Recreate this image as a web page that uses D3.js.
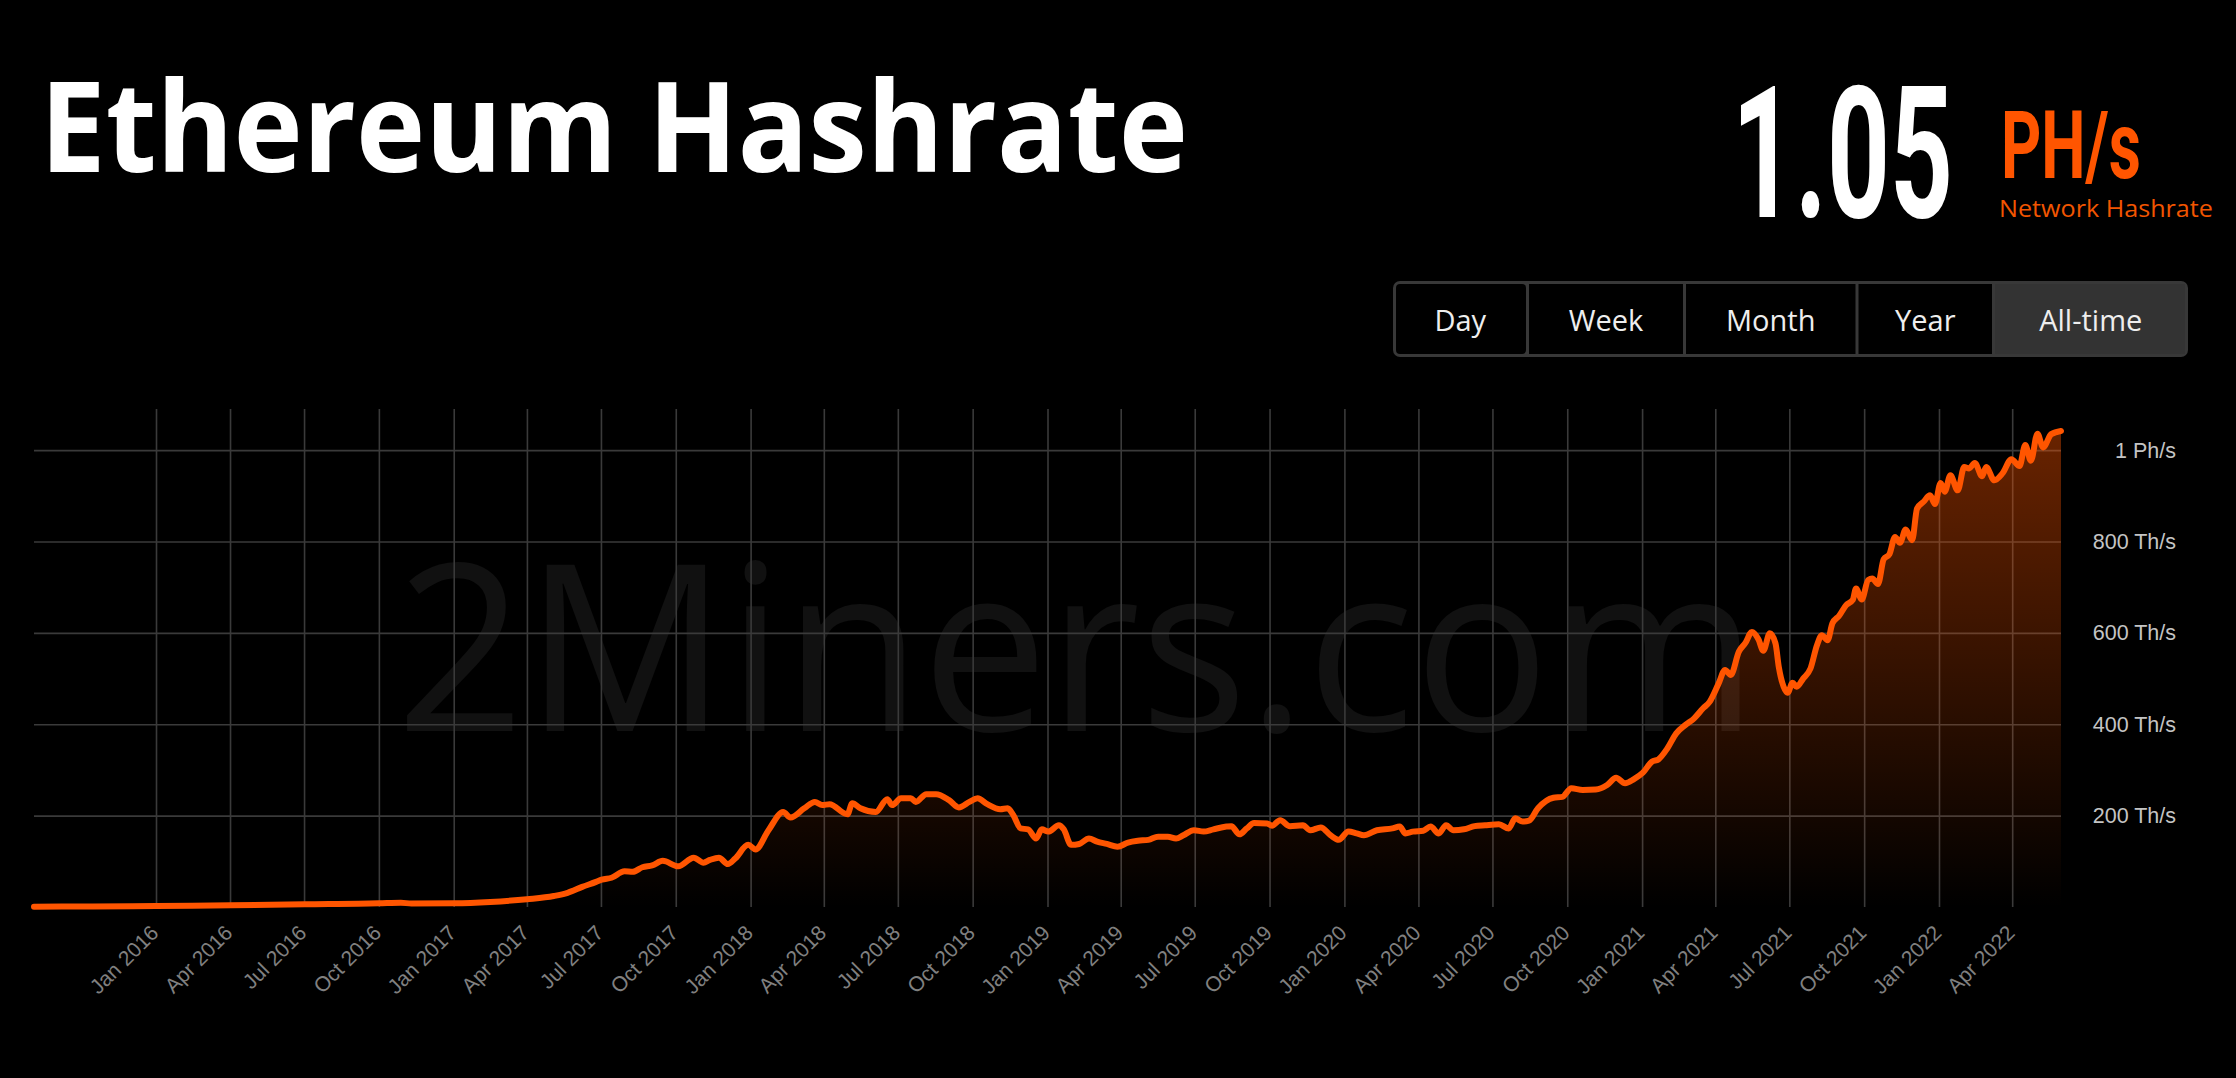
<!DOCTYPE html>
<html>
<head>
<meta charset="utf-8">
<script src="https://cdn.jsdelivr.net/npm/d3@7"></script>
<style>
  html, body { margin: 0; padding: 0; background: #000; }
  svg { display: block; }
</style>
</head>
<body>
<svg id="chart" width="2236" height="1078"></svg>
<script>
// ---------------- DATA ----------------
const dates = [
"2015-08-04","2015-10-15","2016-01-01","2016-04-02","2016-07-02","2016-10-01","2016-10-28","2016-11-10",
"2017-01-02","2017-02-15","2017-04-01","2017-05-04","2017-05-21","2017-06-08","2017-06-25","2017-07-02",
"2017-07-14","2017-07-30","2017-08-09","2017-08-21","2017-09-02","2017-09-15","2017-10-04","2017-10-23",
"2017-11-04","2017-11-12","2017-11-23","2017-12-04","2017-12-13","2017-12-29","2018-01-07","2018-01-23",
"2018-02-10","2018-02-19","2018-03-08","2018-03-21","2018-03-30","2018-04-08","2018-04-30","2018-05-06",
"2018-05-16","2018-06-04","2018-06-18","2018-06-24","2018-07-05","2018-07-17","2018-07-23","2018-08-05",
"2018-08-17","2018-09-02","2018-09-14","2018-09-27","2018-10-07","2018-10-19","2018-11-04","2018-11-13",
"2018-11-20","2018-11-29","2018-12-08","2018-12-18","2018-12-25","2019-01-02","2019-01-15","2019-01-21",
"2019-01-30","2019-02-09","2019-02-21","2019-03-03","2019-03-15","2019-03-28","2019-04-10","2019-04-22",
"2019-05-05","2019-05-17","2019-05-29","2019-06-08","2019-06-17","2019-06-30","2019-07-12","2019-07-24",
"2019-08-09","2019-08-15","2019-08-25","2019-09-03","2019-09-12","2019-09-28","2019-10-04","2019-10-14",
"2019-10-26","2019-11-11","2019-11-20","2019-12-03","2019-12-15","2019-12-25","2020-01-06","2020-01-16",
"2020-01-25","2020-02-10","2020-02-29","2020-03-09","2020-03-16","2020-03-25","2020-04-07","2020-04-16",
"2020-04-26","2020-05-05","2020-05-14","2020-05-27","2020-06-09","2020-06-22","2020-07-09","2020-07-21",
"2020-07-29","2020-08-07","2020-08-15","2020-08-26","2020-09-14","2020-09-25","2020-10-06","2020-10-20",
"2020-11-05","2020-11-19","2020-11-30","2020-12-11","2020-12-22","2021-01-02","2021-01-13","2021-01-21",
"2021-02-01","2021-02-12","2021-02-23","2021-03-06","2021-03-17","2021-03-25","2021-04-05","2021-04-13",
"2021-04-20","2021-04-30","2021-05-08","2021-05-16","2021-05-24","2021-05-30","2021-06-07","2021-06-14",
"2021-06-18","2021-06-24","2021-06-29","2021-07-05","2021-07-10","2021-07-18","2021-07-27","2021-08-04",
"2021-08-10","2021-08-17","2021-08-23","2021-08-31","2021-09-09","2021-09-17","2021-09-21","2021-09-28",
"2021-10-06","2021-10-11","2021-10-18","2021-10-25","2021-11-01","2021-11-08","2021-11-14","2021-11-21",
"2021-11-29","2021-12-05","2021-12-13","2021-12-21","2021-12-27","2022-01-03","2022-01-08","2022-01-15",
"2022-01-24","2022-02-01","2022-02-07","2022-02-14","2022-02-23","2022-02-28","2022-03-10","2022-03-20",
"2022-03-31","2022-04-10","2022-04-17","2022-04-24","2022-05-02","2022-05-09","2022-05-19","2022-05-31"
];
// Network hashrate, TH/s
const hashrate = [
0.7,1.2,2,3.7,5.8,8,9.5,7.5,
8,11,17,24,31,44,55,60,
64,78,77,87,91,101,89,108,
97,103,108,94,106,136,126,168,
208,196,216,230,223,225,203,227,
216,208,236,223,238,238,230,247,
247,234,218,230,238,225,214,216,
201,172,170,150,170,165,179,170,
136,138,150,143,138,132,141,145,
147,154,154,150,157,168,165,170,
176,177,159,172,184,183,178,190,
177,179,168,174,157,147,165,161,
157,168,172,176,161,165,167,176,
161,179,168,170,177,179,181,172,
194,187,189,216,239,241,260,256,
257,267,283,271,280,294,318,323,
347,380,398,413,435,449,489,519,
508,559,578,602,586,561,599,577,
526,482,469,491,482,500,522,573,
595,584,621,637,661,672,697,673,
716,719,707,761,772,810,797,826,
803,872,887,901,882,928,909,945,
912,963,960,972,943,963,934,949,
980,965,1011,977,1036,1006,1035,1042
];
const xTickLabels = [
"Jan 2016","Apr 2016","Jul 2016","Oct 2016","Jan 2017","Apr 2017","Jul 2017","Oct 2017",
"Jan 2018","Apr 2018","Jul 2018","Oct 2018","Jan 2019","Apr 2019","Jul 2019","Oct 2019",
"Jan 2020","Apr 2020","Jul 2020","Oct 2020","Jan 2021","Apr 2021","Jul 2021","Oct 2021",
"Jan 2022","Apr 2022"
];
const yTickValues = [200, 400, 600, 800, 1000];
const yTickLabels = ["200 Th/s", "400 Th/s", "600 Th/s", "800 Th/s", "1 Ph/s"];
const rangeButtons = ["Day", "Week", "Month", "Year", "All-time"];
const activeButton = "All-time";
const titleText = "Ethereum Hashrate";
const currentValue = "1.05";
const currentUnit = "PH/s";
const currentCaption = "Network Hashrate";
const watermark = "2Miners.com";

// ---------------- DRAW ----------------
const svg = d3.select("#chart");
const parseDay = d3.timeParse("%Y-%m-%d");
const parseTick = d3.timeParse("%b %Y");
const data = dates.map((d, i) => ({ date: parseDay(d), value: hashrate[i] }));
const tickDates = xTickLabels.map(parseTick);

const plot = { left: 34, right: 2061, top: 409, bottom: 907 };
const x = d3.scaleTime()
  .domain([parseDay("2015-08-04"), parseDay("2022-05-31")])
  .range([plot.left, plot.right]);
const y = d3.scaleLinear().domain([0, 1090]).range([plot.bottom, plot.top]);

const ORANGE = "#ff5500";

// Place a text at (px, py) and squeeze it horizontally to a target width
function fitText(parent, str, px, py, width, attrs) {
  const t = parent.append("text").attr("x", 0).attr("y", 0).text(str);
  Object.entries(attrs).forEach(([k, v]) => t.attr(k, v));
  const w = t.node().getComputedTextLength();
  t.attr("transform", `translate(${px},${py}) scale(${width / w},1)`);
  return t;
}

// defs
const defs = svg.append("defs");
const grad = defs.append("linearGradient")
  .attr("id", "areaGrad").attr("gradientUnits", "userSpaceOnUse")
  .attr("x1", 0).attr("x2", 0).attr("y1", plot.top).attr("y2", plot.bottom);
grad.append("stop").attr("offset", "0%").attr("stop-color", ORANGE).attr("stop-opacity", 0.43);
grad.append("stop").attr("offset", "100%").attr("stop-color", ORANGE).attr("stop-opacity", 0.0);

// watermark
fitText(svg, watermark, 396, 731, 1362, {
  "font-family": "'Open Sans', sans-serif", "font-weight": 400,
  "font-size": 232, "fill": "#111111"
});

// vertical gridlines
const gx = svg.append("g")
  .attr("transform", `translate(0,${plot.bottom})`)
  .call(d3.axisBottom(x).tickValues(tickDates).tickSize(-(plot.bottom - plot.top)).tickFormat(""));
gx.select(".domain").remove();
gx.selectAll(".tick line").attr("stroke", "#3a3a3a").attr("stroke-width", 1.6);

// horizontal gridlines
const gy = svg.append("g")
  .attr("transform", `translate(${plot.left},0)`)
  .call(d3.axisRight(y).tickValues(yTickValues).tickSize(plot.right - plot.left).tickFormat(""));
gy.select(".domain").remove();
gy.selectAll(".tick line").attr("stroke", "#3a3a3a").attr("stroke-width", 1.6);

// area + line
const area = d3.area()
  .x(d => x(d.date)).y0(y(0)).y1(d => y(d.value))
  .curve(d3.curveMonotoneX);
const line = d3.line()
  .x(d => x(d.date)).y(d => y(d.value))
  .curve(d3.curveMonotoneX);

svg.append("path").datum(data).attr("d", area).attr("fill", "url(#areaGrad)");
svg.append("path").datum(data).attr("d", line)
  .attr("fill", "none").attr("stroke", ORANGE).attr("stroke-width", 6)
  .attr("stroke-linejoin", "round").attr("stroke-linecap", "round");

// x-axis labels
const xa = svg.append("g")
  .attr("transform", `translate(0,${plot.bottom})`)
  .call(d3.axisBottom(x).tickValues(tickDates).tickSize(0).tickFormat(d3.timeFormat("%b %Y")));
xa.select(".domain").remove();
xa.selectAll(".tick text")
  .attr("font-family", "'Liberation Sans', Arial, sans-serif")
  .attr("font-size", 21)
  .attr("fill", "#808080")
  .attr("text-anchor", "end")
  .attr("x", 0).attr("y", 0).attr("dy", "0.35em")
  .attr("transform", "translate(-2,22) rotate(-45)");

// y-axis labels
const ya = svg.append("g")
  .attr("transform", `translate(2176,0)`)
  .call(d3.axisRight(y).tickValues(yTickValues).tickSize(0)
    .tickFormat((d, i) => yTickLabels[i]));
ya.select(".domain").remove();
ya.selectAll(".tick text")
  .attr("font-family", "'Liberation Sans', Arial, sans-serif")
  .attr("font-size", 21.5)
  .attr("fill", "#c4c4c4")
  .attr("text-anchor", "end")
  .attr("x", 0);

// title
fitText(svg, titleText, 40, 172, 1148, {
  "font-family": "'Open Sans', sans-serif", "font-weight": 700,
  "font-size": 126, "fill": "#ffffff"
});

// current value block
fitText(svg, currentValue, 1732, 217, 221, {
  "font-family": "Roboto, sans-serif", "font-weight": 700,
  "font-size": 183, "fill": "#ffffff"
});
fitText(svg, currentUnit, 2001, 178, 140, {
  "font-family": "Roboto, sans-serif", "font-weight": 700,
  "font-size": 94, "fill": ORANGE
});
fitText(svg, currentCaption, 1999, 217, 214, {
  "font-family": "'Open Sans', sans-serif", "font-weight": 400,
  "font-size": 23, "fill": "#f25500"
});

// range buttons
const btnEdges = [1393, 1527.5, 1684.5, 1857, 1993.5, 2188];
const btnTop = 281, btnBot = 357;
svg.append("rect")
  .attr("x", btnEdges[0]).attr("y", btnTop)
  .attr("width", btnEdges[5] - btnEdges[0]).attr("height", btnBot - btnTop)
  .attr("rx", 7).attr("fill", "#383838");
const btn = svg.append("g").selectAll("g").data(rangeButtons).join("g");
btn.append("rect")
  .attr("x", (d, i) => btnEdges[i] + (i === 0 ? 3 : 1.5))
  .attr("y", btnTop + 3)
  .attr("width", (d, i) => btnEdges[i + 1] - btnEdges[i] - (i === 0 ? 4.5 : 3) - (i === 4 ? 1.5 : 0))
  .attr("height", btnBot - btnTop - 6)
  .attr("rx", (d, i) => (i === 0 ? 4 : 0))
  .attr("fill", d => d === activeButton ? "#333333" : "#000000");
btn.append("text")
  .attr("x", (d, i) => (btnEdges[i] + btnEdges[i + 1]) / 2)
  .attr("y", 331)
  .attr("text-anchor", "middle")
  .attr("font-family", "'Open Sans', sans-serif")
  .attr("font-size", 29)
  .attr("fill", "#eeeeee")
  .text(d => d);
</script>
</body>
</html>
